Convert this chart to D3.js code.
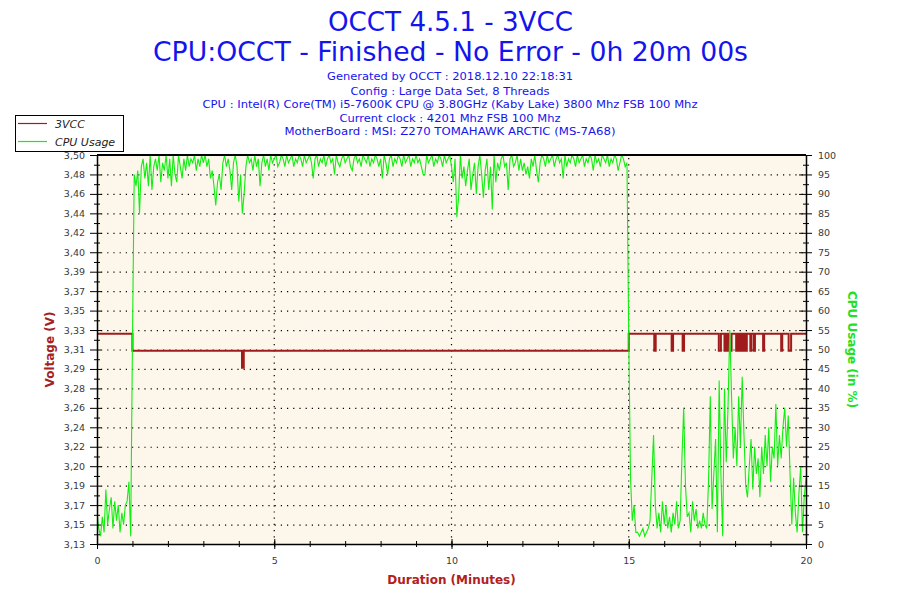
<!DOCTYPE html>
<html><head><meta charset="utf-8">
<script src="https://cdn.jsdelivr.net/npm/d3@7"></script>
<style>
body{margin:0;background:#fff;}
svg{display:block;font-family:"DejaVu Sans",Verdana,sans-serif;}
</style>
</head><body>
<svg id="chart" width="900" height="600"></svg>
<script>
// ---------- data ----------
const titleLines = ["OCCT 4.5.1 - 3VCC", "CPU:OCCT - Finished - No Error - 0h 20m 00s"];
const infoLines = [
  "Generated by OCCT : 2018.12.10 22:18:31",
  "Config : Large Data Set, 8 Threads",
  "CPU : Intel(R) Core(TM) i5-7600K CPU @ 3.80GHz (Kaby Lake) 3800 Mhz FSB 100 Mhz",
  "Current clock : 4201 Mhz FSB 100 Mhz",
  "MotherBoard : MSI: Z270 TOMAHAWK ARCTIC (MS-7A68)"
];
const seriesNames = ["3VCC", "CPU Usage"];
const durationTicks = [0, 5, 10, 15, 20];
const durationMinorTicks = [0,1,2,3,4,5,6,7,8,9,10,11,12,13,14,15,16,17,18,19,20];
const voltTickLabels = ["3,13","3,15","3,17","3,19","3,20","3,22","3,24","3,26","3,28","3,29","3,31",
                        "3,33","3,35","3,37","3,39","3,40","3,42","3,44","3,46","3,48","3,50"];
const voltAxisMin = 3.1302, voltAxisMax = 3.4962;
const cpuTicks = [0,5,10,15,20,25,30,35,40,45,50,55,60,65,70,75,80,85,90,95,100];

// CPU usage (%), one sample every 3 s (0.05 min), 0.00 .. 20.00 min
const sampleStepMin = 0.05;
const cpuUsage = [
  8, 4, 2, 7, 3, 14, 5, 9, 12, 4, 11, 6, 10, 3, 8, 5, 10, 11, 16, 2,
  52, 95, 92, 96, 85, 97, 99, 94, 98, 92, 100, 91, 97, 99, 96, 100, 93, 98, 96, 100,
  94, 99, 92, 100, 95, 93, 100, 97, 94, 99, 96, 100, 97, 99, 98, 100, 96, 99, 97, 100,
  98, 100, 97, 99, 94, 96, 92, 87, 93, 95, 91, 98, 100, 97, 99, 96, 91, 98, 100, 97,
  88, 95, 85, 90, 97, 100, 98, 99, 96, 100, 97, 99, 92, 98, 100, 97, 99, 96, 100, 98,
  99, 100, 97, 98, 100, 99, 97, 100, 98, 99, 100, 97, 99, 98, 100, 99, 97, 100, 98, 99,
  100, 98, 94, 99, 100, 97, 99, 98, 100, 97, 99, 100, 98, 99, 95, 100, 98, 97, 99, 100,
  98, 99, 100, 97, 96, 99, 100, 98, 99, 97, 100, 99, 98, 100, 97, 99, 98, 100, 99, 97,
  99, 94, 100, 98, 95, 99, 100, 97, 99, 98, 100, 99, 97, 100, 98, 99, 100, 97, 99, 98,
  100, 98, 99, 97, 95, 95, 100, 98, 99, 100, 97, 99, 98, 100, 99, 97, 100, 98, 99, 100,
  97, 93, 99, 84, 89, 100, 94, 97, 92, 96, 99, 91, 95, 98, 90, 97, 100, 95, 89, 96,
  99, 91, 97, 86, 100, 93, 98, 96, 99, 100, 97, 98, 91, 99, 100, 97, 98, 100, 96, 99,
  96, 98, 95, 97, 94, 99, 97, 100, 96, 93, 98, 100, 99, 97, 100, 98, 99, 100, 97, 99,
  100, 98, 99, 94, 100, 97, 99, 98, 100, 99, 97, 100, 98, 99, 100, 97, 99, 98, 100, 99,
  96, 100, 98, 99, 97, 100, 99, 98, 100, 97, 99, 98, 100, 99, 96, 98, 100, 99, 97, 98,
  53, 17, 6, 10, 3, 3, 2, 3, 4, 2, 3, 4, 6, 17, 28, 10, 4, 8, 3, 11,
  5, 10, 4, 7, 3, 8, 5, 11, 4, 6, 22, 35, 15, 7, 8, 3, 11, 6, 9, 4,
  6, 4, 8, 5, 4, 16, 38, 9, 18, 27, 3, 42, 18, 2, 40, 21, 35, 55, 38, 22,
  30, 20, 38, 25, 43, 28, 15, 12, 20, 27, 14, 25, 18, 22, 12, 25, 18, 28, 20, 30,
  16, 25, 22, 36, 20, 28, 22, 30, 35, 25, 33, 18, 5, 17, 8, 3, 13, 20, 3, 12,
  17
];

// 3VCC voltage, step readings (minute at which each reading starts)
const voltTimes = [0, 1.0, 4.09, 4.14, 15.0, 15.72, 15.76, 16.21, 16.25, 16.52, 16.56,
  17.54, 17.60, 17.70, 17.72, 17.74, 17.79, 17.83, 17.90, 18.03, 18.08, 18.10, 18.14,
  18.16, 18.20, 18.22, 18.25, 18.28, 18.33, 18.43, 18.46, 18.53, 18.56, 18.79, 18.82,
  19.30, 19.33, 19.51, 19.58, 20.0];
const voltValues = [3.328, 3.312, 3.296, 3.312, 3.328, 3.312, 3.328, 3.312, 3.328, 3.312, 3.328,
  3.312, 3.328, 3.312, 3.328, 3.312, 3.328, 3.312, 3.328, 3.312, 3.328, 3.312, 3.328,
  3.312, 3.328, 3.312, 3.328, 3.312, 3.328, 3.312, 3.328, 3.312, 3.328, 3.312, 3.328,
  3.312, 3.328, 3.312, 3.328, 3.328];

// ---------- layout / style ----------
const M = {left: 97, right: 806, top: 155, bottom: 544};
const C = {
  title: "#1414EE", bg: "#FCF7EA", volt: "#A01C1C", cpu: "#11EE11",
  voltLabel: "#A52222", cpuLabel: "#22E022", durLabel: "#B02020", tick: "#3a3a3a"
};

const svg = d3.select("#chart");
const x = d3.scaleLinear().domain([0, 20]).range([M.left, M.right]);
const yV = d3.scaleLinear().domain([voltAxisMin, voltAxisMax]).range([M.bottom, M.top]);
const yC = d3.scaleLinear().domain([0, 100]).range([M.bottom, M.top]);
const voltTickVals = voltTickLabels.map((_, k) => voltAxisMin + k * (voltAxisMax - voltAxisMin) / (voltTickLabels.length - 1));

// titles
const titleSpec = [{y: 31, len: 245}, {y: 61, len: 595}];
titleLines.forEach((t, i) => {
  svg.append("text").attr("x", 450.5).attr("y", titleSpec[i].y)
    .attr("text-anchor", "middle").attr("font-size", 27).attr("fill", C.title)
    .attr("textLength", titleSpec[i].len).attr("lengthAdjust", "spacingAndGlyphs")
    .text(t);
});
const infoSpec = [{y: 80, len: 246}, {y: 95, len: 199}, {y: 108, len: 495}, {y: 122, len: 221}, {y: 135, len: 331}];
infoLines.forEach((t, i) => {
  svg.append("text").attr("x", 450).attr("y", infoSpec[i].y)
    .attr("text-anchor", "middle").attr("font-size", 11).attr("fill", C.title)
    .attr("textLength", infoSpec[i].len).attr("lengthAdjust", "spacingAndGlyphs")
    .text(t);
});

// plot background
svg.append("rect").attr("x", M.left).attr("y", M.top)
  .attr("width", M.right - M.left).attr("height", M.bottom - M.top).attr("fill", C.bg);

// grid
const grid = svg.append("g").attr("stroke", "#000").attr("stroke-width", 1.2)
  .attr("stroke-dasharray", "1.2,5");
grid.selectAll("line.h").data(cpuTicks.filter(d => d > 0 && d < 100)).enter().append("line")
  .attr("x1", M.left + 4).attr("x2", M.right).attr("y1", d => yC(d) + 0.5).attr("y2", d => yC(d) + 0.5);
grid.selectAll("line.v").data(durationTicks.filter(d => d > 0 && d < 20)).enter().append("line")
  .attr("x1", d => x(d)).attr("x2", d => x(d)).attr("y1", M.top + 3).attr("y2", M.bottom);

// clip
svg.append("clipPath").attr("id", "clip").append("rect")
  .attr("x", M.left).attr("y", M.top - 1).attr("width", M.right - M.left).attr("height", M.bottom - M.top + 2);

// voltage line
const voltPts = voltTimes.map((t, i) => [t, voltValues[i]]);
svg.append("path").datum(voltPts).attr("clip-path", "url(#clip)")
  .attr("fill", "none").attr("stroke", C.volt).attr("stroke-width", 2)
  .attr("d", d3.line().x(d => x(d[0])).y(d => yV(d[1])).curve(d3.curveStepAfter));

// cpu line
svg.append("path").datum(cpuUsage).attr("clip-path", "url(#clip)")
  .attr("fill", "none").attr("stroke", C.cpu).attr("stroke-width", 1.1)
  .attr("d", d3.line().x((d, i) => x(i * sampleStepMin)).y(d => yC(d)));

// top frame
svg.append("line").attr("x1", M.left).attr("x2", M.right).attr("y1", M.top).attr("y2", M.top)
  .attr("stroke", "#000").attr("stroke-width", 2);

function styleAxis(g) {
  g.attr("font-family", "'DejaVu Sans',Verdana,sans-serif").attr("font-size", 9.5);
  g.selectAll("text").attr("fill", C.tick);
  g.selectAll("line").attr("stroke", "#000");
  g.select(".domain").attr("stroke", "#000").attr("stroke-width", 1.5);
}

// left axis (voltage)
const midV = voltTickVals.slice(0, -1).map((v, k) => (v + voltTickVals[k + 1]) / 2);
const gLminor = svg.append("g").attr("transform", `translate(${M.left},0)`)
  .call(d3.axisLeft(yV).tickValues(midV).tickFormat("").tickSize(3).tickSizeOuter(0));
gLminor.select(".domain").remove();
gLminor.selectAll(".tick line").attr("x1", 3).attr("stroke", "#000");
const gL = svg.append("g").attr("transform", `translate(${M.left},0)`)
  .call(d3.axisLeft(yV).tickValues(voltTickVals).tickFormat((d, i) => voltTickLabels[i])
    .tickSize(7).tickPadding(5).tickSizeOuter(0));
styleAxis(gL);
gL.selectAll(".tick line").attr("x1", 4);

// right axis (cpu)
const midC = cpuTicks.slice(0, -1).map(v => v + 2.5);
const gRminor = svg.append("g").attr("transform", `translate(${M.right},0)`)
  .call(d3.axisRight(yC).tickValues(midC).tickFormat("").tickSize(3).tickSizeOuter(0));
gRminor.select(".domain").remove();
gRminor.selectAll(".tick line").attr("x1", -3).attr("stroke", "#000");
const gR = svg.append("g").attr("transform", `translate(${M.right},0)`)
  .call(d3.axisRight(yC).tickValues(cpuTicks).tickFormat(d3.format("d"))
    .tickSize(6).tickPadding(6).tickSizeOuter(0));
styleAxis(gR);
gR.selectAll(".tick line").attr("x1", -7);

// bottom axis (duration)
const gBminor = svg.append("g").attr("transform", `translate(0,${M.bottom})`)
  .call(d3.axisBottom(x).tickValues(durationMinorTicks).tickFormat("").tickSize(3).tickSizeOuter(0));
gBminor.select(".domain").remove();
gBminor.selectAll(".tick line").attr("y1", -3).attr("stroke", "#000");
const gB = svg.append("g").attr("transform", `translate(0,${M.bottom})`)
  .call(d3.axisBottom(x).tickValues(durationTicks).tickFormat(d3.format("d"))
    .tickSize(5).tickPadding(8).tickSizeOuter(0));
styleAxis(gB);
gB.selectAll(".tick line").attr("y1", -5);

// axis titles
svg.append("text").attr("transform", `translate(54,${(M.top + M.bottom) / 2}) rotate(-90)`)
  .attr("text-anchor", "middle").attr("font-size", 12).attr("font-weight", "bold")
  .attr("fill", C.voltLabel).text("Voltage (V)");
svg.append("text").attr("transform", `translate(848,${(M.top + M.bottom) / 2}) rotate(90)`)
  .attr("text-anchor", "middle").attr("font-size", 12).attr("font-weight", "bold")
  .attr("fill", C.cpuLabel).text("CPU Usage (in %)");
svg.append("text").attr("x", (M.left + M.right) / 2).attr("y", 584)
  .attr("text-anchor", "middle").attr("font-size", 12).attr("font-weight", "bold")
  .attr("fill", C.durLabel).text("Duration (Minutes)");

// legend
const lg = svg.append("g");
lg.append("rect").attr("x", 15.5).attr("y", 115.5).attr("width", 108).attr("height", 36)
  .attr("fill", "#fff").attr("stroke", "#000");
[C.volt, C.cpu].forEach((col, i) => {
  const yy = 123.5 + i * 18;
  lg.append("line").attr("x1", 18).attr("x2", 47).attr("y1", yy).attr("y2", yy)
    .attr("stroke", col).attr("stroke-width", 1.2);
  lg.append("text").attr("x", 55).attr("y", yy + 4).attr("font-size", 11)
    .attr("font-style", "italic").attr("fill", "#222").text(seriesNames[i]);
});
</script>
</body></html>
